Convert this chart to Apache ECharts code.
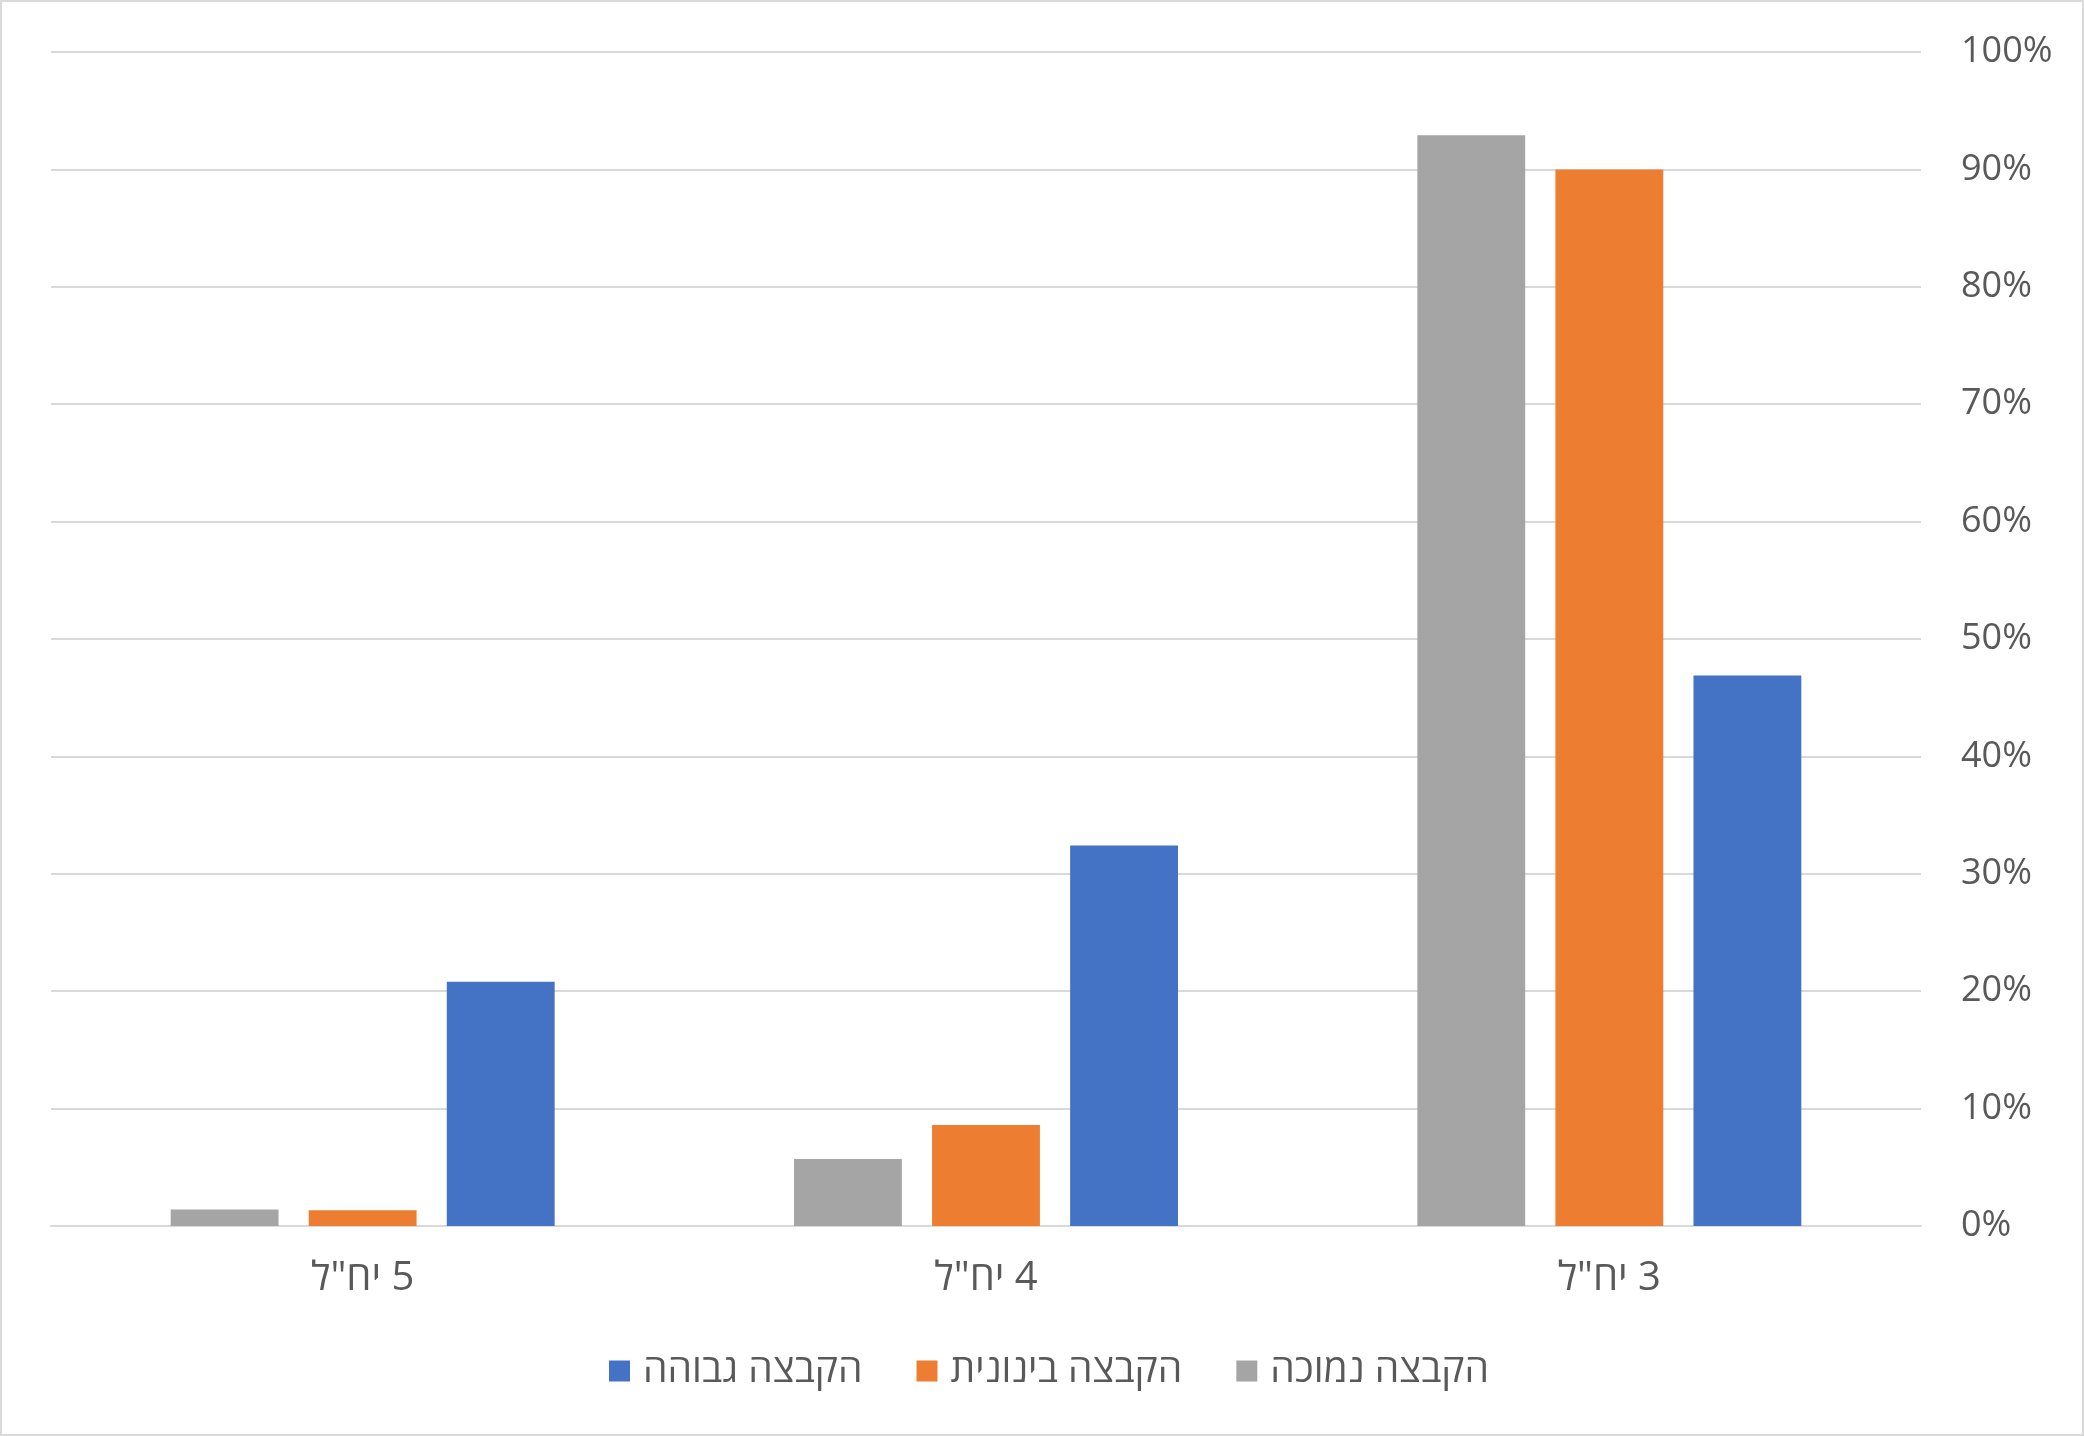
<!DOCTYPE html>
<html>
<head>
<meta charset="utf-8">
<script src="https://cdn.jsdelivr.net/npm/echarts@6/dist/echarts.min.js"></script>
<style>
  html, body { margin: 0; padding: 0; background: #fff; }
  #chart { width: 2084px; height: 1436px; box-sizing: border-box; border: 2px solid #d9d9d9; }
</style>
</head>
<body>
<div id="chart" dir="rtl"></div>
<script>
const categories = ['5 יח"ל', '4 יח"ל', '3 יח"ל'];
const seriesNames = ['הקבצה נמוכה', 'הקבצה בינונית', 'הקבצה גבוהה'];
const lowGroup = [1.4, 5.7, 92.9];
const midGroup = [1.35, 8.6, 90.0];
const highGroup = [20.8, 32.4, 46.9];
const yTicks = [0, 10, 20, 30, 40, 50, 60, 70, 80, 90, 100];
const colors = ['#A5A5A5', '#ED7D31', '#4472C4'];

const font = "'Open Sans', 'Liberation Sans', 'DejaVu Sans', sans-serif";
const chart = echarts.init(document.getElementById('chart'), null, { renderer: 'canvas' });
const values = [lowGroup, midGroup, highGroup];

chart.setOption({
  animation: false,
  backgroundColor: '#ffffff',
  textStyle: { fontFamily: font },
  grid: { left: 49, right: 161, top: 50, bottom: 208, containLabel: false },
  legend: {
    data: [seriesNames[2], seriesNames[1], seriesNames[0]],
    left: 602,
    top: 1342,
    itemWidth: 21,
    itemHeight: 21,
    itemGap: 54,
    icon: 'rect',
    textStyle: { fontFamily: font, fontSize: 39, color: '#595959', padding: [0, 0, 0, 8], lineHeight: 44 }
  },
  xAxis: {
    type: 'category',
    data: categories,
    axisLine: { show: true, lineStyle: { color: '#d9d9d9', width: 2 } },
    axisTick: { show: false },
    axisLabel: { fontFamily: font, fontSize: 40, color: '#595959', margin: 33 },
    splitLine: { show: false }
  },
  yAxis: {
    type: 'value',
    position: 'right',
    min: yTicks[0],
    max: yTicks[yTicks.length - 1],
    interval: 10,
    axisLine: { show: false },
    axisTick: { show: false },
    axisLabel: { fontFamily: font, fontSize: 36, color: '#595959', margin: 40, formatter: '{value}%' },
    splitLine: { show: true, lineStyle: { color: '#d9d9d9', width: 2 } }
  },
  series: seriesNames.map((name, i) => ({
    name: name,
    type: 'bar',
    data: values[i],
    barGap: '28%',
    barCategoryGap: '38.4%',
    itemStyle: { color: colors[i] }
  }))
});
</script>
</body>
</html>
